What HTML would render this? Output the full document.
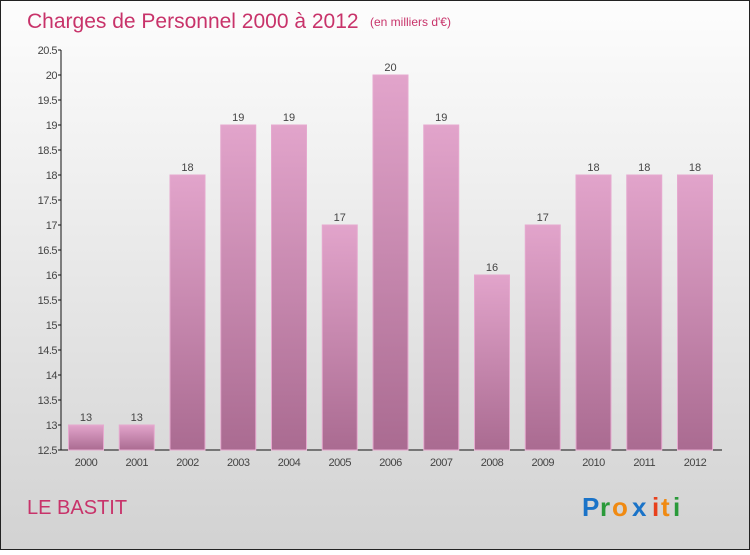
<!DOCTYPE html>
<html><head><meta charset="utf-8"><style>
body{margin:0;width:750px;height:550px;overflow:hidden;font-family:"Liberation Sans",sans-serif}
</style></head><body>
<svg width="750" height="550" xmlns="http://www.w3.org/2000/svg">
<defs>
<linearGradient id="bg" x1="0" y1="0" x2="0" y2="1"><stop offset="0" stop-color="#fdfdfd"/><stop offset="1" stop-color="#d2d2d2"/></linearGradient>
<linearGradient id="bar" x1="0" y1="0" x2="0" y2="1"><stop offset="0" stop-color="#e2a4cb"/><stop offset="1" stop-color="#aa6b91"/></linearGradient>
</defs>
<rect x="0.5" y="0.5" width="749" height="549" fill="url(#bg)" stroke="#222"/>
<text x="27" y="28" font-size="21" fill="#c8336a">Charges de Personnel 2000 à 2012</text>
<text x="370" y="26" font-size="12" fill="#c8336a">(en milliers d'€)</text>
<g id="g"></g>
<text x="27" y="514" font-size="20" fill="#c8336a">LE BASTIT</text>
<g font-size="26" font-weight="bold">
<text x="582" y="516" fill="#1a73c8">P</text><text x="600" y="516" fill="#2a9a3a">r</text><text x="612" y="516" fill="#f08a12">o</text><text x="632" y="516" fill="#1a73c8">x</text><text x="652" y="516" fill="#e8401c">i</text><text x="661" y="516" fill="#f08a12">t</text><text x="673" y="516" fill="#2a9a3a">i</text>
</g>
</svg>
<script>
const years=["2000","2001","2002","2003","2004","2005","2006","2007","2008","2009","2010","2011","2012"];
const values=[13,13,18,19,19,17,20,19,16,17,18,18,18];
const yTicks=[12.5,13,13.5,14,14.5,15,15.5,16,16.5,17,17.5,18,18.5,19,19.5,20,20.5];
const NS="http://www.w3.org/2000/svg",g=document.getElementById('g');
const y=v=>450-(v-12.5)*50, x=i=>86+i*50.75;
function mk(t,a,txt){const e=document.createElementNS(NS,t);for(const k in a)e.setAttribute(k,a[k]);if(txt!=null)e.textContent=txt;g.appendChild(e);return e;}
let e;
e=mk('line',{x1:61,y1:50,x2:61,y2:450,stroke:'#111'});


e=mk('line',{x1:61,y1:450,x2:722,y2:450,stroke:'#111'});


yTicks.forEach(v=>{
 e=mk('line',{x1:58,y1:y(v),x2:61,y2:y(v),stroke:'#111'});
 
 
 e=mk('text',{x:57,y:y(v)+4,'font-size':11,fill:'#444','text-anchor':'end','letter-spacing':'-0.5'},String(v));
 
 
});
years.forEach((yr,i)=>{
 const v=values[i];
 e=mk('rect',{x:x(i)-17.5,y:y(v),width:35,height:450-y(v),fill:'url(#bar)',stroke:'#e6a9cf','stroke-width':1});
 
 
 e=mk('text',{x:x(i),y:y(v)-4,'font-size':11,fill:'#444','text-anchor':'middle'},String(v));
 
 
 e=mk('text',{x:x(i),y:466,'font-size':11,fill:'#444','text-anchor':'middle','letter-spacing':'-0.5'},yr);
 
 
});
</script>
</body></html>
